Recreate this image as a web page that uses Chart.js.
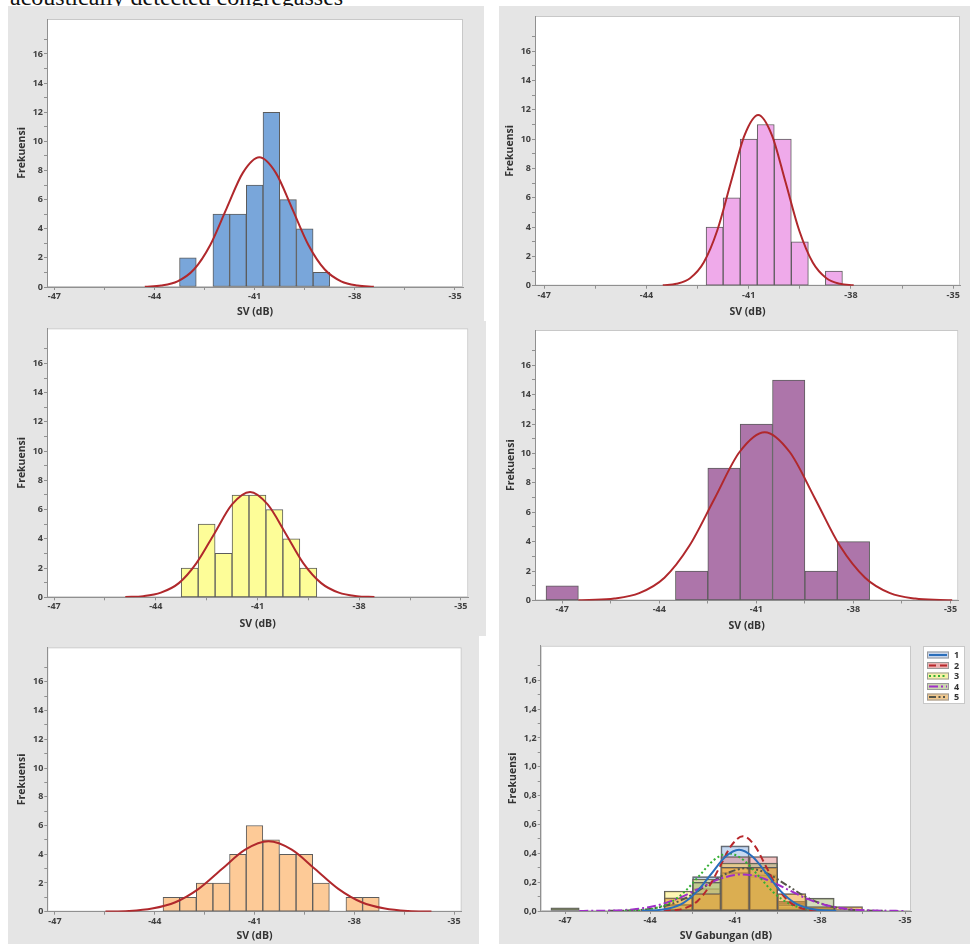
<!DOCTYPE html>
<html>
<head>
<meta charset="utf-8">
<script src="https://cdn.jsdelivr.net/npm/chart.js@4.4.1/dist/chart.umd.min.js"></script>
<style>
  body { margin: 0; background: #fff; width: 970px; height: 944px; position: relative; overflow: hidden; }
  .cap { position: absolute; left: 10px; top: -15px; font: 24px/24px "Liberation Serif", serif; color: #111; white-space: nowrap; }
  canvas { position: absolute; background: #e5e5e5; }
</style>
</head>
<body>
<div class="cap">acoustically detected congregasses</div>
<canvas id="c1" width="476" height="315" style="left:8px;top:6px"></canvas>
<canvas id="c2" width="471" height="315" style="left:499px;top:6px"></canvas>
<canvas id="c3" width="478" height="315" style="left:8px;top:321px"></canvas>
<canvas id="c4" width="471" height="315" style="left:499px;top:321px"></canvas>
<canvas id="c5" width="471" height="308" style="left:8px;top:636px"></canvas>
<canvas id="c6" width="471" height="308" style="left:499px;top:636px"></canvas>
<script>
// sumbu
const xMajor = [-47, -44, -41, -38, -35];
const xMinor = [-45.5, -42.5, -39.5, -36.5];
const yMajor = [0, 2, 4, 6, 8, 10, 12, 14, 16];
const yMinor = [1, 3, 5, 7, 9, 11, 13, 15, 17];
const yMajor6 = [0, 0.2, 0.4, 0.6, 0.8, 1.0, 1.2, 1.4, 1.6];
const yLabels6 = ["0,0", "0,2", "0,4", "0,6", "0,8", "1,0", "1,2", "1,4", "1,6"];
const yMinor6 = [0.1, 0.3, 0.5, 0.7, 0.9, 1.1, 1.3, 1.5, 1.7];

// grup 1 (biru)
const bins1 = [-43, -42, -41.5, -41, -40.5, -40, -39.5, -39];
const freq1 = [2, 5, 5, 7, 12, 6, 4, 1];
const fitX1 = [-44.29, -43.80, -43.31, -42.82, -42.33, -41.84, -41.35, -40.86, -40.37, -39.88, -39.39, -38.90, -38.41, -37.92, -37.43];
const fitY1 = [0.02, 0.10, 0.39, 1.20, 2.89, 5.40, 7.85, 8.90, 7.85, 5.40, 2.89, 1.20, 0.39, 0.10, 0.02];

// grup 2 (merah muda)
const bins2 = [-42, -41.5, -41, -40.5, -40, -39.5, -38.5];
const freq2 = [4, 6, 10, 11, 10, 3, 1];
const fitX2 = [-43.52, -43.12, -42.72, -42.32, -41.92, -41.52, -41.12, -40.72, -40.32, -39.92, -39.52, -39.12, -38.72, -38.32, -37.92];
const fitY2 = [0.03, 0.13, 0.51, 1.58, 3.78, 7.07, 10.28, 11.65, 10.28, 7.07, 3.78, 1.58, 0.51, 0.13, 0.03];

// grup 3 (kuning)
const bins3 = [-43, -42.5, -42, -41.5, -41, -40.5, -40, -39.5];
const freq3 = [2, 5, 3, 7, 7, 6, 4, 2];
const fitX3 = [-44.90, -44.37, -43.85, -43.32, -42.80, -42.27, -41.75, -41.22, -40.70, -40.17, -39.65, -39.12, -38.60, -38.07, -37.55];
const fitY3 = [0.02, 0.08, 0.32, 0.97, 2.34, 4.37, 6.35, 7.20, 6.35, 4.37, 2.34, 0.97, 0.32, 0.08, 0.02];

// grup 4 (ungu)
const bins4 = [-47, -43, -42, -41, -40, -39, -38];
const freq4 = [1, 2, 9, 12, 15, 2, 4];
const fitX4 = [-46.50, -46.17, -45.39, -44.62, -43.84, -43.07, -42.29, -41.52, -40.74, -39.97, -39.19, -38.42, -37.64, -36.87, -36.09, -35.32, -34.95];
const fitY4 = [0.01, 0.03, 0.13, 0.50, 1.55, 3.72, 6.94, 10.10, 11.45, 10.10, 6.94, 3.72, 1.55, 0.50, 0.13, 0.03, 0.01];

// grup 5 (oranye)
const bins5 = [-43.5, -43, -42.5, -42, -41.5, -41, -40.5, -40, -39.5, -39, -38, -37.5];
const freq5 = [1, 1, 2, 2, 4, 6, 5, 4, 4, 2, 1, 1];
const fitX5 = [-45.48, -44.78, -44.08, -43.38, -42.68, -41.98, -41.28, -40.58, -39.88, -39.18, -38.48, -37.78, -37.08, -36.38, -35.68];
const fitY5 = [0.01, 0.05, 0.22, 0.66, 1.59, 2.97, 4.32, 4.90, 4.32, 2.97, 1.59, 0.66, 0.22, 0.05, 0.01];

// gabungan (densitas)
const groups = ["1", "2", "3", "4", "5"];
const binsAll = [-47, -43, -42, -41, -40, -39, -38, -37];
const dens1 = [0, 0.048, 0.238, 0.452, 0.238, 0.024, 0, 0];
const dens2 = [0, 0, 0.156, 0.378, 0.378, 0.067, 0.022, 0];
const dens3 = [0, 0.139, 0.222, 0.333, 0.250, 0.056, 0, 0];
const dens4 = [0.022, 0.044, 0.200, 0.267, 0.333, 0.044, 0.089, 0];
const dens5 = [0, 0.091, 0.121, 0.303, 0.303, 0.121, 0.030, 0.030];
const dfit1 = [0.001, 0.005, 0.019, 0.057, 0.138, 0.257, 0.374, 0.424, 0.374, 0.257, 0.138, 0.057, 0.019, 0.005, 0.001];
const dfit2 = [0.001, 0.006, 0.023, 0.070, 0.168, 0.314, 0.457, 0.518, 0.457, 0.314, 0.168, 0.070, 0.023, 0.006, 0.001];
const dfit3 = [0.001, 0.004, 0.018, 0.054, 0.130, 0.243, 0.353, 0.400, 0.353, 0.243, 0.130, 0.054, 0.018, 0.004, 0.001];
const dfit4 = [0.0002, 0.001, 0.003, 0.011, 0.034, 0.082, 0.154, 0.224, 0.254, 0.224, 0.154, 0.082, 0.034, 0.011, 0.003, 0.001, 0.0002];
const dfit5 = [0.001, 0.003, 0.013, 0.040, 0.096, 0.180, 0.262, 0.297, 0.262, 0.180, 0.096, 0.040, 0.013, 0.003, 0.001];

const fitRed = "#b0282c";
const lineCol = ["#2a6ebb", "#b8282c", "#34b034", "#a02ec8", "#55554a"];
const lineDash = [[], [7, 4], [2, 2.5], [9, 3, 2, 3], [7, 2.5, 2, 2.5, 2, 2.5]];
const densFill = ["rgba(130,170,225,0.45)", "rgba(222,112,112,0.42)", "rgba(252,236,90,0.45)", "rgba(160,180,105,0.45)", "rgba(236,160,45,0.55)"];
const swatchFill = ["#c6d6ee", "#e9b3b3", "#f6f1a6", "#cbd6b0", "#f1c88e"];

Chart.defaults.font.family = "'Open Sans', sans-serif";

const plotBg = {
  id: "plotBg",
  beforeDraw(chart) {
    const { ctx, chartArea: a } = chart;
    ctx.save();
    ctx.fillStyle = "#fff";
    ctx.fillRect(a.left, a.top, a.width, a.height);
    ctx.strokeStyle = "#c8c8c8";
    ctx.lineWidth = 1;
    ctx.strokeRect(a.left + 0.5, a.top + 0.5, a.width - 1, a.height - 1);
    ctx.restore();
  }
};

const legendBox = {
  id: "legendBox",
  afterDraw(chart) {
    const ctx = chart.ctx;
    const x0 = 424, y0 = 10;
    ctx.save();
    ctx.fillStyle = "#fff";
    ctx.fillRect(x0, y0, 42, 58);
    ctx.strokeStyle = "#c8c8c8";
    ctx.lineWidth = 1;
    ctx.strokeRect(x0 + 0.5, y0 + 0.5, 41, 57);
    groups.forEach((g, i) => {
      const cy = 19 + i * 10.5;
      ctx.setLineDash([]);
      ctx.fillStyle = swatchFill[i];
      ctx.fillRect(x0 + 4, cy - 3.5, 22, 7);
      ctx.strokeStyle = "#999";
      ctx.lineWidth = 1;
      ctx.strokeRect(x0 + 4.5, cy - 3, 21, 6);
      ctx.strokeStyle = lineCol[i];
      ctx.lineWidth = 2;
      ctx.setLineDash(lineDash[i]);
      ctx.beginPath();
      ctx.moveTo(x0 + 6, cy);
      ctx.lineTo(x0 + 24, cy);
      ctx.stroke();
      ctx.setLineDash([]);
      ctx.fillStyle = "#333";
      ctx.font = "bold 9px 'Open Sans'";
      ctx.textBaseline = "middle";
      ctx.fillText(g, x0 + 31, cy + 0.5);
    });
    ctx.restore();
  }
};

function bars(bins, vals, fill, order) {
  return {
    type: "bar",
    data: bins.map((b, i) => ({ x: b, y: vals[i] })).filter(p => p.y > 0),
    backgroundColor: fill,
    borderColor: "#5c5c5c",
    borderWidth: 1,
    borderSkipped: false,
    barPercentage: 1,
    categoryPercentage: 1,
    grouped: false,
    order: order
  };
}

function curve(xs, ys, color, dash) {
  return {
    type: "line",
    data: xs.map((x, i) => ({ x: x, y: ys[i] })),
    borderColor: color,
    borderWidth: 2,
    borderDash: dash,
    pointRadius: 0,
    fill: false,
    cubicInterpolationMode: "monotone",
    order: 0
  };
}

function ticksFont() {
  return { family: "'Open Sans'", size: 9, weight: "bold" };
}
function titleFont() {
  return { family: "'Open Sans'", size: 10.5, weight: "bold" };
}

function xAxis(min, max, title, titlePad, h) {
  return {
    type: "linear", min: min, max: max, offset: false,
    afterBuildTicks: ax => { ax.ticks = xMajor.concat(xMinor).sort((a, b) => a - b).map(v => ({ value: v })); },
    afterFit: ax => { ax.height = h; },
    ticks: { autoSkip: false, maxRotation: 0, padding: 1, color: "#404040", font: ticksFont(),
      callback: v => xMajor.includes(v) ? String(v) : "" },
    grid: { drawOnChartArea: false, drawTicks: true, tickLength: 3, tickColor: "#909090", offset: false },
    border: { color: "#909090" },
    title: { display: true, text: title, color: "#333", font: titleFont(), padding: { top: 0, bottom: titlePad } }
  };
}

function yAxis(max, majors, minors, labels, titlePad, w) {
  return {
    type: "linear", min: 0, max: max,
    afterBuildTicks: ax => { ax.ticks = majors.concat(minors).sort((a, b) => a - b).map(v => ({ value: v })); },
    afterFit: ax => { ax.width = w; },
    ticks: { autoSkip: false, padding: 1, color: "#404040", font: ticksFont(),
      callback: v => {
        const k = majors.findIndex(m => Math.abs(m - v) < 1e-9);
        return k < 0 ? "" : labels[k];
      } },
    grid: { drawOnChartArea: false, drawTicks: true, tickLength: 3, tickColor: "#909090" },
    border: { color: "#909090" },
    title: { display: true, text: "Frekuensi", color: "#333", font: titleFont(), padding: { top: titlePad, bottom: 0 } }
  };
}

function panel(id, p) {
  new Chart(document.getElementById(id), {
    type: "bar",
    data: { datasets: p.datasets },
    options: {
      responsive: false,
      animation: false,
      devicePixelRatio: 1,
      layout: { padding: { left: 0, top: p.top, right: p.right, bottom: 0 } },
      plugins: { legend: { display: false }, tooltip: { enabled: false } },
      scales: {
        x: xAxis(p.xmin, p.xmax, p.xtitle || "SV (dB)", p.xpad, p.xh),
        y: p.yaxis
      }
    },
    plugins: [plotBg].concat(p.extra || [])
  });
}

const yLab = yMajor.map(String);

panel("c1", {
  datasets: [curve(fitX1, fitY1, fitRed, []), bars(bins1, freq1, "#79a6da", 1)],
  top: 13, right: 21, xmin: -47.22, xmax: -34.76, xpad: 3, xh: 34,
  yaxis: yAxis(18.4, yMajor, yMinor, yLab, 8, 39)
});
panel("c2", {
  datasets: [curve(fitX2, fitY2, fitRed, []), bars(bins2, freq2, "#efaaea", 1)],
  top: 10, right: 10, xmin: -47.27, xmax: -34.80, xpad: 3, xh: 35.3,
  yaxis: yAxis(18.4, yMajor, yMinor, yLab, 5, 36)
});
panel("c3", {
  datasets: [curve(fitX3, fitY3, fitRed, []), bars(bins3, freq3, "#fdfd98", 1)],
  top: 7.3, right: 17.7, xmin: -47.21, xmax: -34.78, xpad: 6, xh: 38.7,
  yaxis: yAxis(18.4, yMajor, yMinor, yLab, 8, 39)
});
panel("c4", {
  datasets: [curve(fitX4, fitY4, fitRed, []), bars(bins4, freq4, "#ad75aa", 1)],
  top: 9, right: 11.7, xmin: -47.84, xmax: -34.76, xpad: 3.4, xh: 35.5,
  yaxis: yAxis(18.4, yMajor, yMinor, yLab, 6, 36)
});
panel("c5", {
  datasets: [curve(fitX5, fitY5, fitRed, []), bars(bins5, freq5, "#fdca97", 1)],
  top: 11.3, right: 17.3, xmin: -47.23, xmax: -34.77, xpad: 1.4, xh: 32.3,
  yaxis: yAxis(18.4, yMajor, yMinor, yLab, 8, 39.3)
});
panel("c6", {
  datasets: [
    curve(fitX1, dfit1, lineCol[0], lineDash[0]),
    curve(fitX2, dfit2, lineCol[1], lineDash[1]),
    curve(fitX3, dfit3, lineCol[2], lineDash[2]),
    curve(fitX4, dfit4, lineCol[3], lineDash[3]),
    curve(fitX5, dfit5, lineCol[4], lineDash[4]),
    bars(binsAll, dens1, densFill[0], 5),
    bars(binsAll, dens2, densFill[1], 4),
    bars(binsAll, dens3, densFill[2], 3),
    bars(binsAll, dens4, densFill[3], 2),
    bars(binsAll, dens5, densFill[4], 1)
  ],
  top: 9.7, right: 59, xmin: -47.86, xmax: -34.79, xpad: 1.4, xh: 33, xtitle: "SV Gabungan (dB)",
  yaxis: yAxis(1.84, yMajor6, yMinor6, yLabels6, 7.7, 41.7),
  extra: [legendBox]
});
</script>
</body>
</html>
